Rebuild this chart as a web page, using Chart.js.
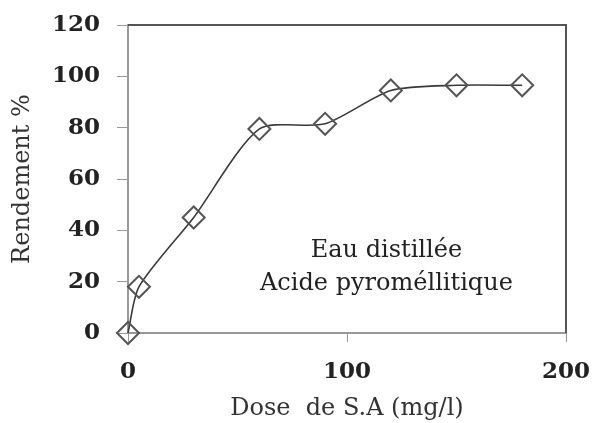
<!DOCTYPE html>
<html>
<head>
<meta charset="utf-8">
<script src="https://cdn.jsdelivr.net/npm/chart.js@4/dist/chart.umd.min.js"></script>
<style>
  html, body { margin: 0; padding: 0; background: #fff; }
  #wrap { width: 593px; height: 423px; }
</style>
</head>
<body>
<div id="wrap"><canvas id="chart"></canvas></div>
<script>
// Données
const doses = [0, 5, 30, 60, 90, 120, 150, 180];
const rendement = [0, 18, 45, 79.5, 81.5, 94.5, 96.5, 96.5];
const xTicks = [0, 100, 200];
const yTicks = [0, 20, 40, 60, 80, 100, 120];
const noteLines = ['Eau distillée', 'Acide pyroméllitique'];

const serif = '"DejaVu Serif", "Liberation Serif", serif';

// Cadre haut/droite + texte d'annotation
const extras = {
    id: 'extras',
    afterDraw(chart) {
        const c = chart.ctx;
        const a = chart.chartArea;
        const xs = chart.scales.x, ys = chart.scales.y;
        c.save();
        c.strokeStyle = '#555';
        c.lineWidth = 2;
        c.beginPath();
        c.moveTo(a.left, a.top);
        c.lineTo(a.right, a.top);
        c.lineTo(a.right, a.bottom);
        c.stroke();

        c.fillStyle = '#222';
        c.font = '24px ' + serif;
        c.textAlign = 'center';
        c.textBaseline = 'middle';
        c.fillText(noteLines[0], xs.getPixelForValue(118), ys.getPixelForValue(32));
        c.fillText(noteLines[1], xs.getPixelForValue(118), ys.getPixelForValue(19));
        c.restore();
    }
};

const ctx = document.getElementById('chart').getContext('2d');
new Chart(ctx, {
    type: 'line',
    data: {
        datasets: [{
            data: doses.map((d, i) => ({ x: d, y: rendement[i] })),
            borderColor: '#3a3a3a',
            borderWidth: 1.6,
            tension: 0.25,
            fill: false,
            clip: false,
            pointStyle: 'rectRot',
            pointRadius: 11,
            pointBackgroundColor: 'rgba(255,255,255,0)',
            pointBorderColor: '#555',
            pointBorderWidth: 2
        }]
    },
    options: {
        responsive: true,
        maintainAspectRatio: false,
        animation: false,
        layout: { padding: { top: 25, right: 27, left: 8, bottom: 0 } },
        plugins: { legend: { display: false }, tooltip: { enabled: false } },
        scales: {
            x: {
                type: 'linear',
                min: 0, max: 200,
                afterBuildTicks: s => { s.ticks = xTicks.map(v => ({ value: v })); },
                afterFit: s => { s.height = 90; s.paddingLeft = 0; s.paddingRight = 0; },
                grid: { drawOnChartArea: false, tickLength: 9, color: '#999' },
                border: { color: '#999', width: 2 },
                ticks: { padding: 16, color: '#222', font: { family: serif, size: 23, weight: 'bold' } },
                title: { display: true, text: 'Dose  de S.A (mg/l)', color: '#333', padding: { top: 0, bottom: 0 },
                         font: { family: serif, size: 24 } }
            },
            y: {
                min: 0, max: 120,
                afterBuildTicks: s => { s.ticks = yTicks.map(v => ({ value: v })); },
                afterFit: s => { s.width = 120; s.paddingTop = 0; s.paddingBottom = 0; },
                grid: { drawOnChartArea: false, tickLength: 11, color: '#999' },
                border: { color: '#999', width: 2 },
                ticks: { padding: 17, color: '#222', font: { family: serif, size: 23, weight: 'bold' } },
                title: { display: true, text: 'Rendement %', color: '#333', padding: 0,
                         font: { family: serif, size: 24 } }
            }
        }
    },
    plugins: [extras]
});
</script>
</body>
</html>
